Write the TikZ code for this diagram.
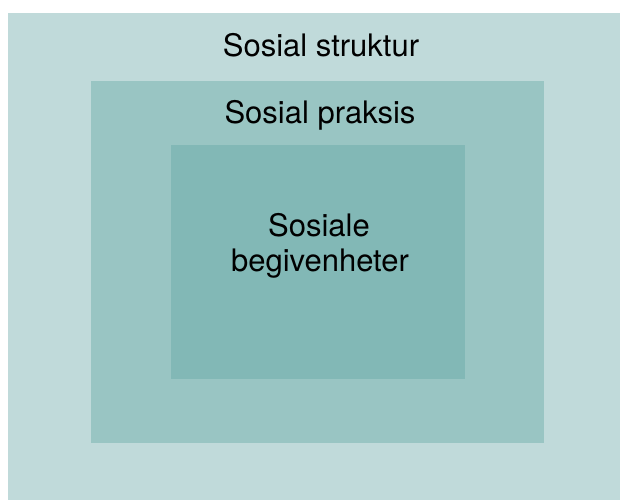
\documentclass[tikz,border=0pt]{standalone}
\usepackage{fontspec}
\setmainfont{TeX Gyre Heros}
\definecolor{strukturcol}{HTML}{C0DADA}
\definecolor{praksiscol}{HTML}{99C5C3}
\definecolor{hendelsecol}{HTML}{82B8B6}
\tikzset{
  layer/.style={draw=none, inner sep=0pt, outer sep=0pt},
  tag/.style={font=\fontsize{31}{35}\selectfont, anchor=base, inner sep=0pt}
}
\begin{document}
\begin{tikzpicture}[x=1pt,y=1pt]
    \useasboundingbox[fill=white] (0,0) rectangle (620,500);
    \fill[strukturcol] (8,0) rectangle (620,487); % outer layer
    \fill[praksiscol] (91,57) rectangle (544,419);
    \fill[hendelsecol] (171,121) rectangle (465,355);
    \node[tag] (struktur) at (321,443) {Sosial struktur};
    \node[tag] (praksis) at (320,376) {Sosial praksis};
    \node[tag] (sosiale) at (319,263) {Sosiale};
    \node[tag] (begiven) at (320,228) {begivenheter};
\end{tikzpicture}
\end{document}
